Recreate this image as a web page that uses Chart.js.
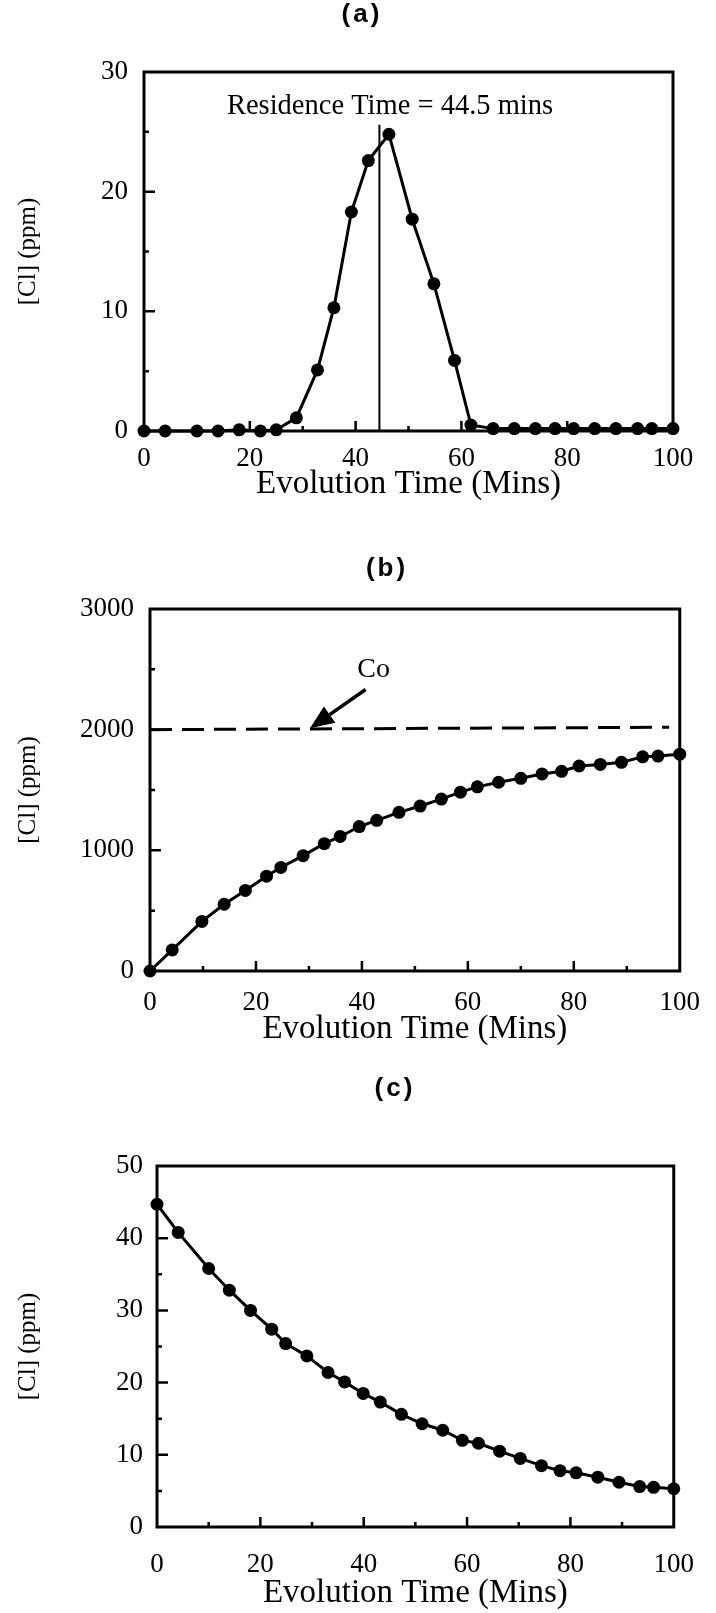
<!DOCTYPE html>
<html>
<head>
<meta charset="utf-8">
<script src="https://cdn.jsdelivr.net/npm/chart.js@4.4.0/dist/chart.umd.min.js"></script>
<style>
  html, body { margin: 0; padding: 0; background: #fff; }
  body { width: 716px; height: 1613px; position: relative; overflow: hidden; }
  .panel { position: absolute; left: 0; width: 716px; }
</style>
</head>
<body>
<div class="panel" style="top:0;height:535px"><canvas id="chartA"></canvas></div>
<div class="panel" style="top:535px;height:520px"><canvas id="chartB"></canvas></div>
<div class="panel" style="top:1055px;height:558px"><canvas id="chartC"></canvas></div>
<script>
// (a) pulse
var timeA = [0, 4, 10, 14, 18, 22, 25, 28.8, 32.8, 35.9, 39.2, 42.4, 46.3, 50.7, 54.8, 58.7, 61.8, 66, 70, 74, 77.7, 81.2, 85.2, 89.2, 93.3, 96, 100];
var clA = [0, 0, 0, 0, 0.1, 0, 0.1, 1.1, 5.1, 10.3, 18.3, 22.6, 24.8, 17.7, 12.3, 5.9, 0.5, 0.2, 0.2, 0.2, 0.2, 0.2, 0.2, 0.2, 0.2, 0.2, 0.2];
var residenceTime = 44.5;
var residencePeak = 25.6;

// (b) build-up
var timeB = [0, 4.2, 9.8, 14, 18, 22, 24.7, 28.9, 32.9, 35.9, 39.5, 42.8, 47, 51, 55, 58.6, 61.8, 65.8, 70, 74, 77.7, 81, 85, 89, 93, 95.9, 100];
var clB = [0, 175, 411, 553, 668, 786, 858, 956, 1055, 1115, 1197, 1249, 1315, 1367, 1425, 1482, 1526, 1564, 1597, 1633, 1655, 1699, 1712, 1729, 1775, 1781, 1797];
var coTime = [0, 98];
var coLevel = [2000, 2020];

// (c) decay
var timeC = [0, 4.1, 10, 14, 18.1, 22.2, 24.9, 29, 33.1, 36.3, 39.9, 43.2, 47.3, 51.3, 55.3, 59.1, 62.2, 66.3, 70.3, 74.4, 78, 81.1, 85.3, 89.4, 93.4, 96.1, 100];
var clC = [44.7, 40.8, 35.8, 32.8, 30.0, 27.4, 25.4, 23.7, 21.4, 20.1, 18.5, 17.3, 15.6, 14.3, 13.4, 12.0, 11.6, 10.5, 9.5, 8.5, 7.8, 7.5, 6.9, 6.2, 5.6, 5.5, 5.3];

var xTitle = 'Evolution Time (Mins)';
var yTitle = '[Cl] (ppm)';
var serif = '"Liberation Serif", "Times New Roman", serif';

Chart.defaults.font.family = serif;
Chart.defaults.color = '#000';

function pts(xs, ys) {
  return xs.map(function (x, i) { return { x: x, y: ys[i] }; });
}

function curve(xs, ys) {
  return {
    data: pts(xs, ys), showLine: true, borderColor: '#000', backgroundColor: '#000',
    borderWidth: 3, pointRadius: 6.5, pointBorderWidth: 0, tension: 0, clip: false
  };
}

// frame, inward ticks, panel letters and notes
var figureExtras = {
  id: 'figureExtras',
  beforeDatasetsDraw: function (chart, args, o) {
    var ctx = chart.ctx, a = chart.chartArea, xs = chart.scales.x, ys = chart.scales.y;
    ctx.save();
    ctx.strokeStyle = '#000';
    ctx.lineWidth = 3;
    ctx.strokeRect(a.left, a.top, a.right - a.left, a.bottom - a.top);
    ctx.lineWidth = 2.5;
    ctx.beginPath();
    var v, p;
    for (v = o.xMinor; v < xs.max; v += o.xMinor) {
      p = xs.getPixelForValue(v);
      ctx.moveTo(p, a.bottom);
      ctx.lineTo(p, a.bottom - (v % (o.xMinor * 2) === 0 ? 10 : 5));
    }
    for (v = o.yMinor; v < ys.max; v += o.yMinor) {
      p = ys.getPixelForValue(v);
      ctx.moveTo(a.left, p);
      ctx.lineTo(a.left + (v % (o.yMinor * 2) === 0 ? 11 : 5), p);
    }
    ctx.stroke();
    ctx.restore();
  },
  afterDraw: function (chart, args, o) {
    var ctx = chart.ctx, xs = chart.scales.x, ys = chart.scales.y;
    ctx.save();
    ctx.fillStyle = '#000';
    ctx.strokeStyle = '#000';
    ctx.textAlign = 'center';
    ctx.textBaseline = 'middle';
    ctx.font = 'bold 26px "Liberation Sans", Arial, sans-serif';
    if ('letterSpacing' in ctx) ctx.letterSpacing = '3px';
    ctx.fillText(o.title, o.titleX, o.titleY);
    if ('letterSpacing' in ctx) ctx.letterSpacing = '0px';
    (o.notes || []).forEach(function (n) {
      ctx.font = n.size + 'px ' + serif;
      ctx.fillText(n.text, xs.getPixelForValue(n.x), ys.getPixelForValue(n.y));
    });
    if (o.arrow) {
      var x1 = xs.getPixelForValue(o.arrow.from[0]), y1 = ys.getPixelForValue(o.arrow.from[1]);
      var x2 = xs.getPixelForValue(o.arrow.to[0]), y2 = ys.getPixelForValue(o.arrow.to[1]);
      var ang = Math.atan2(y2 - y1, x2 - x1);
      var hl = 24, hw = 10;
      ctx.lineWidth = 3.5;
      ctx.beginPath();
      ctx.moveTo(x1, y1);
      ctx.lineTo(x2 - hl * Math.cos(ang), y2 - hl * Math.sin(ang));
      ctx.stroke();
      ctx.beginPath();
      ctx.moveTo(x2, y2);
      ctx.lineTo(x2 - hl * Math.cos(ang) + hw * Math.sin(ang), y2 - hl * Math.sin(ang) - hw * Math.cos(ang));
      ctx.lineTo(x2 - hl * Math.cos(ang) - hw * Math.sin(ang), y2 - hl * Math.sin(ang) + hw * Math.cos(ang));
      ctx.closePath();
      ctx.fill();
    }
    ctx.restore();
  }
};
Chart.register(figureExtras);

function panel(id, box, datasets, yMax, yStep, extras) {
  var el = document.getElementById(id);
  var h = el.parentNode.clientHeight;
  return new Chart(el, {
    type: 'scatter',
    data: { datasets: datasets },
    options: {
      responsive: true,
      maintainAspectRatio: false,
      animation: false,
      layout: { padding: { left: 0, top: box.top, right: 716 - box.right, bottom: 0 } },
      plugins: { legend: { display: false }, tooltip: { enabled: false }, figureExtras: extras },
      scales: {
        x: {
          type: 'linear', min: 0, max: 100,
          grid: { display: false, drawTicks: false }, border: { display: false },
          ticks: { stepSize: 20, padding: box.xPad, font: { size: 27 }, color: '#000', maxRotation: 0 },
          title: { display: true, text: xTitle, font: { size: 33 }, color: '#000', padding: { top: 0, bottom: box.xTitlePad } },
          afterFit: function (s) { s.height = h - box.bottom; }
        },
        y: {
          type: 'linear', min: 0, max: yMax,
          grid: { display: false, drawTicks: false }, border: { display: false },
          ticks: {
            stepSize: yStep, padding: box.yPad, font: { size: 27 }, color: '#000',
            callback: function (v) { return String(v); }
          },
          title: { display: true, text: yTitle, font: { size: 25 }, color: '#000', padding: { top: 13, bottom: 0 } },
          afterFit: function (s) { s.width = box.left; }
        }
      }
    }
  });
}

var residenceLine = {
  data: [{ x: residenceTime, y: 0 }, { x: residenceTime, y: residencePeak }],
  showLine: true, borderColor: '#000', borderWidth: 2, pointRadius: 0
};

panel('chartA', { left: 144, right: 673, top: 72, bottom: 431, xPad: 12, yPad: 16, xTitlePad: 31 },
  [curve(timeA, clA), residenceLine], 30, 10,
  {
    title: '(a)', titleX: 362, titleY: 15, xMinor: 10, yMinor: 5,
    notes: [{ text: 'Residence Time = 44.5 mins', x: 46.5, y: 27.1, size: 28.5 }]
  });

var coLine = {
  data: pts(coTime, coLevel), showLine: true, borderColor: '#000', borderWidth: 3,
  borderDash: [22, 10], pointRadius: 0
};

panel('chartB', { left: 150, right: 682, top: 74, bottom: 436, xPad: 16, yPad: 16, xTitlePad: 6 },
  [curve(timeB, clB), coLine], 3000, 1000,
  {
    title: '(b)', titleX: 387, titleY: 34, xMinor: 10, yMinor: 500,
    notes: [{ text: 'Co', x: 42.2, y: 2500, size: 28 }],
    arrow: { from: [40.7, 2333], to: [30.2, 2011] }
  });

panel('chartC', { left: 157, right: 689, top: 111, bottom: 472, xPad: 22, yPad: 14, xTitlePad: 0 },
  [curve(timeC, clC)], 50, 10,
  { title: '(c)', titleX: 395, titleY: 34, xMinor: 10, yMinor: 5 });
</script>
</body>
</html>
